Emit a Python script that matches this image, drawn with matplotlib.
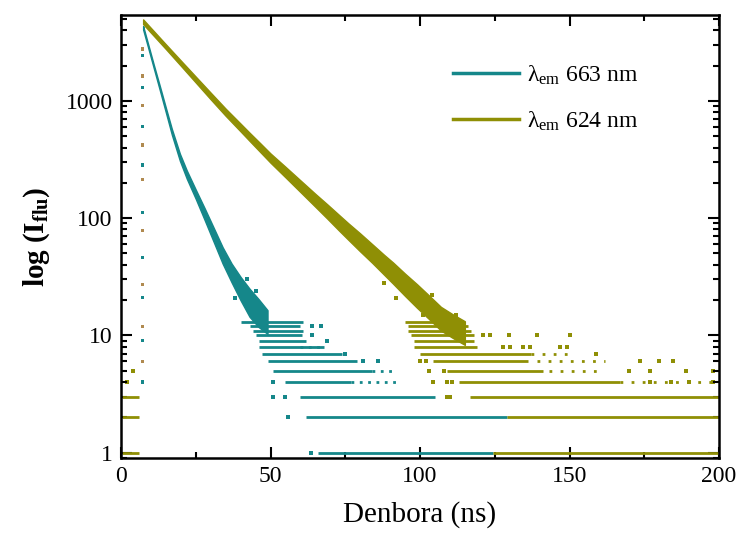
import matplotlib
matplotlib.use("Agg")
import matplotlib.pyplot as plt
from matplotlib.lines import Line2D

plt.rcParams['font.family'] = ['Liberation Serif', 'DejaVu Serif']
plt.rcParams['mathtext.fontset'] = 'custom'
plt.rcParams['mathtext.rm'] = 'Liberation Serif'
plt.rcParams['mathtext.it'] = 'Liberation Serif:italic'
plt.rcParams['mathtext.bf'] = 'Liberation Serif:bold'

teal = '#15878a'
olive = '#8f8f05'

# decay band, 663 nm
teal_x = [7.4, 9, 11, 13, 15, 17, 19.7, 22, 25, 28, 31, 34, 37, 40, 43, 46, 49]
teal_lo = [4058, 2889, 1884, 1228, 797, 515, 308, 217, 146, 96, 62.7, 40.9, 28.3, 19.9,
           14.4, 11.8, 10.3]
teal_hi = [4347, 3095, 2018, 1334, 874, 577, 354, 255, 175, 121, 82.7, 56.4, 40.9, 31.5,
           25, 20.4, 16.4]

# decay band, 624 nm
olive_x = [7.4, 10, 15, 20, 25, 30, 35, 40, 43, 46.5, 50, 55, 60, 65, 69, 73, 76, 80,
           84, 88, 91, 95, 99, 103, 107, 111, 115]
olive_lo = [4518, 3820, 2770, 1996, 1435, 1031, 746, 549, 456, 368, 297, 223, 167, 125, 99,
            78, 65.5, 52, 41.6, 32.9, 27.6, 21.7, 17.2, 13.8, 11, 9.5, 8.3]
olive_hi = [4952, 4188, 3036, 2209, 1610, 1174, 858, 639, 535, 437, 356, 274, 210, 161, 131,
            106, 90.5, 74, 60, 48.6, 41.8, 33.6, 27.3, 21.9, 17.5, 15.1, 13.2]

# photon-count levels (count, from ns, to ns)
teal_lvl = [13, 12, 11, 10, 9, 8, 7, 6, 5, 4, 3, 2, 1]
teal_from = [40, 43, 44, 45, 46, 46, 47, 49, 51, 55, 60, 62, 66]
teal_to = [61, 60, 61, 60.5, 62, 68, 74, 79, 84, 77, 105, 129, 124.5]
teal_sp_lvl = [5, 4, 8]
teal_sp_from = [84, 77, 60]
teal_sp_to = [91, 92, 68]
teal_dot_x = [64, 67, 64, 69, 75, 51, 51, 55, 56, 63.5, 81, 86, 38, 36, 42, 45]
teal_dot_y = [12, 12, 10, 9, 7, 4, 3, 3, 2, 1, 6, 6, 21, 40, 30, 24]

olive_lvl = [1, 2, 3, 4, 5, 6, 7, 8, 9, 10, 11, 12, 13, 1, 2, 3]
olive_from = [124.5, 129, 116.7, 113, 109, 104.5, 100, 98, 98, 97, 96, 96, 95, 0.3, 0.3, 0.3]
olive_to = [200, 200, 200, 167, 141, 136, 137, 119, 118, 118, 117, 116, 114, 6, 6, 6]
olive_sp_lvl = [4, 5, 6, 7]
olive_sp_from = [167, 143, 139, 137]
olive_sp_to = [200, 161, 162, 150]
olive_dot_x = [104.5, 109, 110.6, 103, 108, 100, 102, 109, 110, 177, 184, 190, 198,
               170, 177, 189, 198, 173.6, 180, 184.7, 159, 127.9, 130, 134.6, 136.8, 146.8,
               149, 121, 123.4, 129.6, 139, 150, 2, 4, 88, 92, 101, 104, 112]
olive_dot_y = [4, 4, 4, 5, 5, 6, 6, 3, 3, 4, 4, 4, 4,
               5, 5, 5, 5, 6, 6, 6, 7, 8, 8, 8, 8, 8,
               8, 10, 10, 10, 10, 10, 4, 5, 28, 21, 15, 22, 15]

# rising edge column at ~7 ns
prompt_y = [2770, 2430, 1630, 1310, 910, 600, 420, 284, 212, 112, 79, 46, 27, 21, 12, 9, 6, 4]
prompt_x = [7.1] * len(prompt_y)

fig = plt.figure(figsize=(7.45, 5.37), dpi=100)
ax = fig.add_axes([121 / 745, 1 - 458 / 537, 598 / 745, 443 / 537])

for lvl, a, b in zip(teal_lvl, teal_from, teal_to):
    ax.hlines(lvl, a, b, color=teal, lw=2.0)
for lvl, a, b in zip(teal_sp_lvl, teal_sp_from, teal_sp_to):
    ax.hlines(lvl, a, b, color=teal, lw=2.0, linestyles=(0, (1, 2)))
ax.scatter(teal_dot_x, teal_dot_y, s=5, marker='s', color=teal, lw=0)
ax.fill_between(teal_x, teal_lo, teal_hi, color=teal, lw=1.0, edgecolor=teal)

for lvl, a, b in zip(olive_lvl, olive_from, olive_to):
    ax.hlines(lvl, a, b, color=olive, lw=2.0)
for lvl, a, b in zip(olive_sp_lvl, olive_sp_from, olive_sp_to):
    ax.hlines(lvl, a, b, color=olive, lw=2.0, linestyles=(0, (1, 3)))
ax.scatter(olive_dot_x, olive_dot_y, s=5, marker='s', color=olive, lw=0)
ax.fill_between(olive_x, olive_lo, olive_hi, color=olive, lw=1.0, edgecolor=olive)

ax.scatter(prompt_x, prompt_y, s=5, marker='s',
           color=[teal if i % 2 else '#b08a50' for i in range(len(prompt_y))], lw=0)

ax.set_yscale('log')
ax.set_xlim(0, 200)
ax.set_ylim(0.9, 5400)
ax.set_yticks([1, 10, 100, 1000])
ax.set_yticklabels(['1', '10', '100', '1000'])
ax.set_xticks([0, 50, 100, 150, 200])
ax.set_xticks([25, 75, 125, 175], minor=True)
ax.tick_params(which='both', direction='in', top=True, right=True, width=1.5,
               labelsize=17, pad=6)
ax.tick_params(which='major', length=8)
ax.tick_params(which='minor', length=4.5)
for s in ax.spines.values():
    s.set_linewidth(1.8)

ax.set_xlabel('Denbora (ns)', fontsize=21, labelpad=10)
ax.set_ylabel(r'$\mathbf{log\ (I_{flu})}$', fontsize=21, labelpad=10)

handles = [Line2D([], [], color=teal, lw=2.5), Line2D([], [], color=olive, lw=2.5)]
labels = ['λ$_{\\rm em}$ 663 nm', 'λ$_{\\rm em}$ 624 nm']
ax.legend(handles, labels, loc='upper left', bbox_to_anchor=(0.555, 0.89),
          frameon=False, fontsize=17, handlelength=2.8, handletextpad=0.35,
          labelspacing=0.95, borderpad=0, borderaxespad=0)

fig.savefig('out.png', dpi=100)
